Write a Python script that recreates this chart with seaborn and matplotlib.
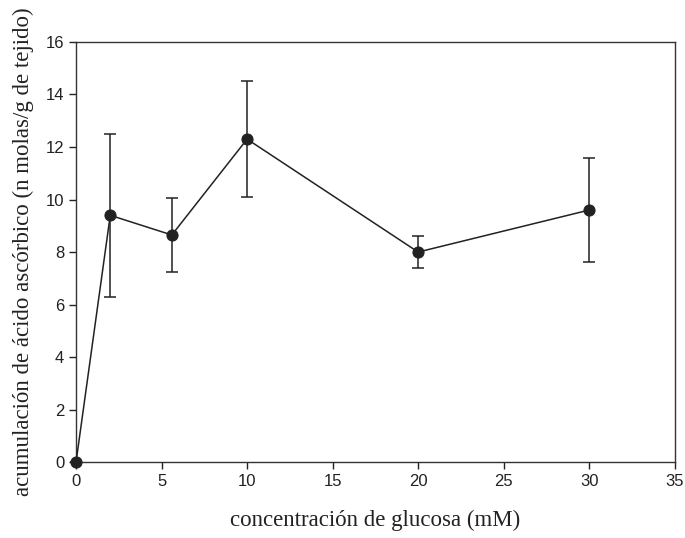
import numpy as np
import pandas as pd
import matplotlib
matplotlib.use("Agg")
import matplotlib.pyplot as plt
import seaborn as sns

# ==========================================================
# datos
# ==========================================================

glucosa = [0, 2, 5.6, 10, 20, 30]
acumulacion = [0, 9.4, 8.65, 12.3, 8.0, 9.6]
error = [0, 3.1, 1.4, 2.2, 0.62, 1.97]

x_ticks = [0, 5, 10, 15, 20, 25, 30, 35]
y_ticks = [0, 2, 4, 6, 8, 10, 12, 14, 16]

df = pd.DataFrame({
    "glucosa": glucosa,
    "acumulacion": acumulacion,
    "error": error
})

# ==========================================================
# figura
# ==========================================================

sns.set_theme(style="ticks")
plt.rcParams["font.family"] = ["Liberation Sans", "DejaVu Sans"]

fig = plt.figure(figsize=(6.85, 5.38), dpi=100)
ax = fig.add_axes([0.111, 0.141, 0.874, 0.781])

ax.errorbar(
    df["glucosa"],
    df["acumulacion"],
    yerr=df["error"],
    fmt="none",
    ecolor="#222222",
    elinewidth=1.1,
    capsize=4.5,
    capthick=1.1,
    zorder=2
)

sns.lineplot(
    data=df,
    x="glucosa",
    y="acumulacion",
    color="#222222",
    linewidth=1.1,
    marker="o",
    markersize=8,
    markeredgecolor="#222222",
    ax=ax,
    zorder=3
)

for ln in ax.lines:
    ln.set_clip_on(False)

ax.set_xlim(0, 35)
ax.set_ylim(0, 16)
ax.set_xticks(x_ticks)
ax.set_yticks(y_ticks)
ax.tick_params(labelsize=12, colors="#222222", length=5, width=1)

for s in ax.spines.values():
    s.set_color("#333333")
    s.set_linewidth(1)
    s.set_visible(True)

ax.set_xlabel(
    "concentración de glucosa (mM)",
    family=["Liberation Serif", "DejaVu Serif"],
    fontsize=16.5,
    color="#222222",
    labelpad=15
)
ax.set_ylabel(
    "acumulación de ácido ascórbico (n molas/g de tejido)",
    family=["Liberation Serif", "DejaVu Serif"],
    fontsize=16.5,
    color="#222222",
    labelpad=8
)

fig.savefig("out.png", dpi=100)
